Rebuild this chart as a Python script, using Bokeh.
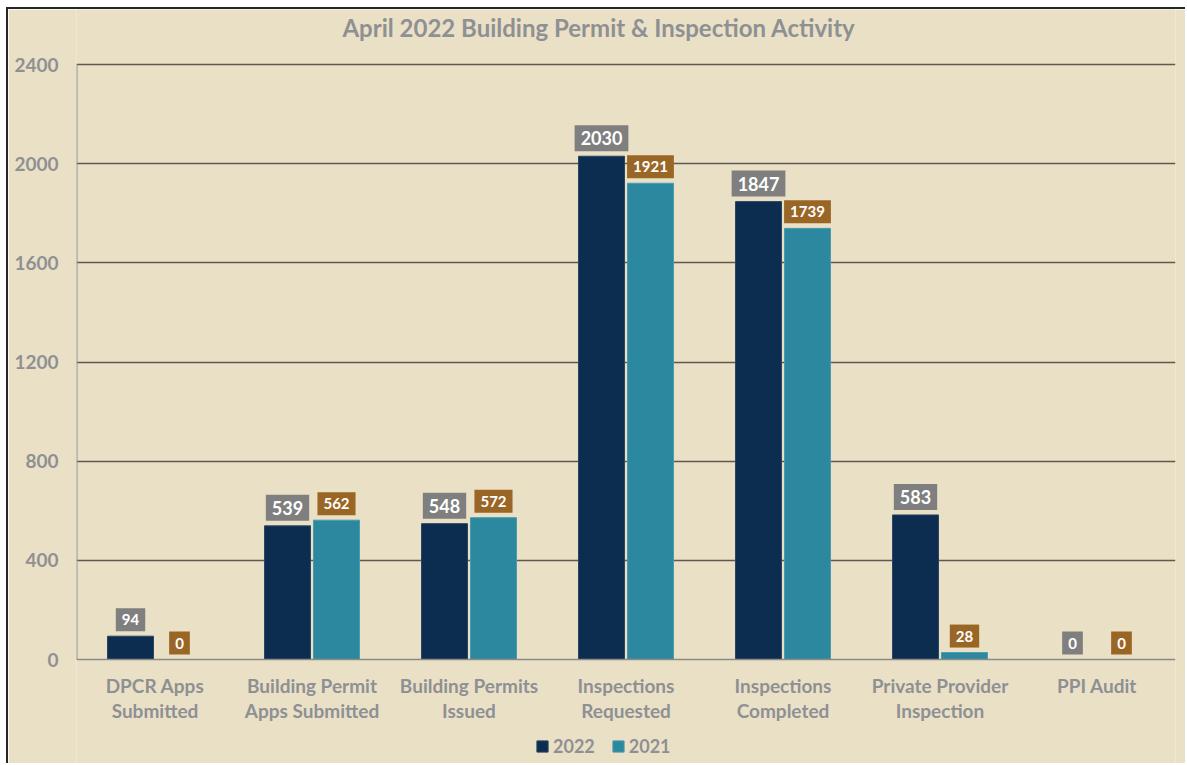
from bokeh.plotting import figure
from bokeh.models import ColumnDataSource, FactorRange, Legend, LegendItem, Span, Range1d
from bokeh.transform import dodge
from bokeh.core.properties import value
from bokeh.embed import file_html
from bokeh.resources import INLINE

categories = ["DPCR Apps\nSubmitted", "Building Permit\nApps Submitted", "Building Permits\nIssued",
              "Inspections\nRequested", "Inspections\nCompleted", "Private Provider\nInspection", "PPI Audit"]
v2022 = [94, 539, 548, 2030, 1847, 583, 0]
v2021 = [0, 562, 572, 1921, 1739, 28, 0]
y_ticks = [0, 400, 800, 1200, 1600, 2000, 2400]
title_text = "April 2022 Building Permit & Inspection Activity"

BG = "#EAE0C6"
NAVY = "#0D2D50"
TEAL = "#2B889F"
GRAYBOX = "#7F7F7F"
BROWN = "#9A6626"
TXT = "#8E9094"
FONT = "Lato"

# layout (pixels)
W, H = 1179, 756
F_LEFT, F_RIGHT = 68, 12
PX_TOP = 55       # canvas px from top to the 2400 line
PX_ZERO = 650     # canvas px from top to the 0 line
ymax = y_ticks[-1]
upp = ymax / (PX_ZERO - PX_TOP)  # units per pixel
y_end = ymax + PX_TOP * upp
y_start = -(H - PX_ZERO) * upp

src = ColumnDataSource(dict(
    cat=categories, v2022=v2022, v2021=v2021,
    t2022=[str(v) for v in v2022], t2021=[str(v) for v in v2021],
    fs2022=["18px" if v >= 100 else "15px" for v in v2022],
    zero=[0] * len(categories),
))
title_src = ColumnDataSource(dict(x=[categories[3]], y=[ymax], t=[title_text]))
axis_src = ColumnDataSource(dict(x=[categories[0]], y0=[0], y1=[ymax]))

p = figure(x_range=FactorRange(*categories), y_range=Range1d(y_start, y_end),
           width=W, height=H, output_backend="svg", toolbar_location=None,
           background_fill_color=BG, border_fill_color=BG,
           min_border_left=F_LEFT, min_border_right=F_RIGHT, min_border_top=0, min_border_bottom=0)
p.styles = {"margin-left": "6px", "margin-top": "7px",
            "border-left": "2px solid #262626", "border-top": "2px solid #262626"}
p.outline_line_color = None
p.xaxis.visible = False

r22 = p.vbar(x=dodge("cat", -0.156, range=p.x_range), top="v2022", width=0.293, source=src,
             fill_color=NAVY, line_color="#2a4563", line_width=1)
r21 = p.vbar(x=dodge("cat", 0.156, range=p.x_range), top="v2021", width=0.293, source=src,
             fill_color=TEAL, line_color="#4a9bb0", line_width=1)

p.text(x=dodge("cat", -0.156, range=p.x_range), y="v2022", text="t2022", source=src,
       text_align="center", text_baseline="bottom", y_offset=-5,
       text_font=value(FONT), text_font_style="bold", text_font_size="fs2022", text_color="white",
       background_fill_color=GRAYBOX, padding=6)
p.text(x=dodge("cat", 0.156, range=p.x_range), y="v2021", text="t2021", source=src,
       text_align="center", text_baseline="bottom", y_offset=-5,
       text_font=value(FONT), text_font_style="bold", text_font_size="15px", text_color="white",
       background_fill_color=BROWN, padding=6)

# category labels
p.text(x="cat", y="zero", text="cat", source=src, text_align="center", text_baseline="top",
       y_offset=14, text_font=value(FONT), text_font_style="bold", text_font_size="19px",
       text_color=TXT, text_line_height=1.1)

# title
p.text(x=dodge("x", -0.172, range=p.x_range), y="y", text="t", source=title_src,
       text_align="center", text_baseline="middle", y_offset=-37,
       text_font=value(FONT), text_font_style="bold", text_font_size="24px", text_color=TXT)

# baseline and y axis line
p.add_layout(Span(location=0, dimension="width", line_color="#8A8A86", line_width=1.5))
p.segment(x0=dodge("x", -0.498, range=p.x_range), x1=dodge("x", -0.498, range=p.x_range),
          y0="y0", y1="y1", source=axis_src, line_color="#9A9A9A", line_width=1.5)

p.xgrid.grid_line_color = None
p.ygrid.ticker = y_ticks[1:]
p.ygrid.grid_line_color = "#5C5A50"
p.ygrid.grid_line_width = 1.5

p.yaxis.ticker = y_ticks
p.yaxis.axis_line_color = None
p.yaxis.major_tick_line_color = None
p.yaxis.minor_tick_line_color = None
p.yaxis.major_label_text_font = FONT
p.yaxis.major_label_text_font_style = "bold"
p.yaxis.major_label_text_font_size = "19px"
p.yaxis.major_label_text_color = TXT
p.yaxis.major_label_standoff = 12

legend = Legend(items=[LegendItem(label="2022", renderers=[r22]), LegendItem(label="2021", renderers=[r21])],
                orientation="horizontal", location=(459, 8),
                label_text_font=FONT, label_text_font_style="bold", label_text_font_size="18px",
                label_text_color=TXT, glyph_width=14, glyph_height=14, spacing=16, label_standoff=4,
                background_fill_alpha=0, border_line_color=None, margin=0, padding=6)
p.add_layout(legend, "center")

open("out.html", "w").write(file_html(p, INLINE))
